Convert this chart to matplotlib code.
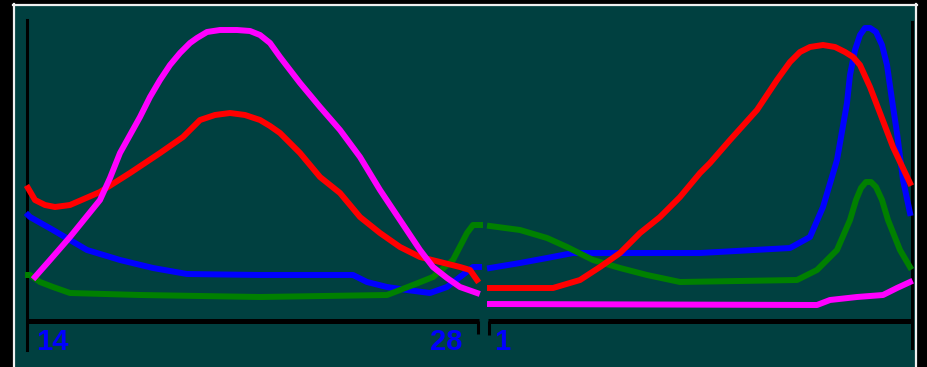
import matplotlib
matplotlib.use("Agg")
import matplotlib.pyplot as plt

# Readings from the picture: x = column position, y = level above the baseline.
# Left panel (days 14 .. 28)
red_left_x = [28, 35, 45, 55, 70, 100, 130, 160, 183, 200, 215, 230, 245, 260, 270, 280,
              300, 320, 340, 360, 380, 400, 420, 440, 460, 470, 477]
red_left_y = [132, 120, 115, 113, 115, 128, 147, 167, 183, 200, 205, 207, 205, 200, 194, 187,
              167, 143, 127, 103, 87, 73, 63, 58, 53, 50, 40]

mag_left_x = [35, 50, 70, 100, 110, 120, 130, 140, 150, 160, 170, 180, 190, 197, 207, 220,
              237, 250, 260, 270, 280, 300, 320, 340, 360, 380, 400, 420, 433, 447, 460, 477]
mag_left_y = [43, 60, 83, 120, 142, 167, 185, 203, 223, 240, 255, 267, 277, 282, 288, 290,
              290, 289, 285, 277, 263, 237, 213, 190, 163, 130, 100, 70, 53, 42, 33, 27]

blue_left_x = [28, 30, 53, 87, 120, 153, 187, 260, 353, 367, 387, 407, 430, 447, 460, 473, 479]
blue_left_y = [105, 103, 90, 70, 60, 52, 46, 45, 45, 38, 33, 30, 27, 33, 43, 53, 53]

green_left_x = [28, 30, 40, 53, 70, 140, 260, 387, 413, 433, 453, 467, 473, 480]
green_left_y = [45, 45, 38, 33, 27, 25, 23, 25, 35, 43, 60, 87, 95, 95]

# Right panel (from day 1)
red_right_x = [490, 553, 580, 600, 620, 640, 660, 680, 700, 710, 730, 757, 777, 790,
               800, 810, 823, 835, 845, 853, 860, 870, 880, 893, 910]
red_right_y = [32, 32, 40, 53, 67, 87, 103, 123, 147, 157, 180, 210, 240, 258,
               268, 273, 275, 273, 268, 263, 255, 233, 207, 173, 137]

blue_right_x = [490, 520, 547, 573, 700, 790, 810, 823, 837, 847, 850, 855, 860, 865,
                870, 876, 882, 887, 892, 897, 903, 910]
blue_right_y = [52, 57, 62, 67, 67, 72, 83, 113, 160, 217, 245, 270, 285, 292,
                292, 288, 275, 255, 220, 187, 140, 107]

green_right_x = [490, 520, 547, 567, 593, 620, 647, 680, 797, 817, 837, 850, 856, 861,
                 866, 871, 876, 882, 888, 900, 910]
green_right_y = [94, 90, 82, 73, 60, 52, 45, 38, 40, 50, 70, 100, 120, 132,
                 138, 138, 133, 120, 100, 70, 53]

mag_right_x = [490, 817, 830, 857, 883, 897, 910]
mag_right_y = [16, 15, 20, 23, 25, 32, 38]

tick_labels = ["14", "28", "1"]

BG = "#004040"
LW = 4.3

fig = plt.figure(figsize=(9.28, 3.67), dpi=100)
fig.patch.set_facecolor(BG)
ax = fig.add_axes([0, 0, 1, 1])
ax.set_xlim(0, 928)
ax.set_ylim(-47, 320)
ax.set_facecolor(BG)
ax.axis("off")

# outer black frame and white border
ax.axvspan(0, 13, color="black", zorder=1)
ax.axvspan(917, 928, color="black", zorder=1)
ax.axhspan(316, 320, color="black", zorder=1)
ax.plot([14, 14], [-47, 316], color="#f0f0f0", lw=1.6, zorder=2)
ax.plot([13, 917], [315, 315], color="#f0f0f0", lw=1.6, zorder=2)
ax.plot([916, 916], [-47, 316], color="#f0f0f0", lw=1.6, zorder=2)

# axis lines
ax.plot([27, 27], [-30, 300], color="black", lw=2.2, zorder=3)
ax.plot([912, 912], [-28, 298], color="black", lw=2.2, zorder=3)
ax.plot([28, 479], [-1, -1], color="black", lw=3.6, solid_capstyle="butt", zorder=3)
ax.plot([478, 478], [-1, -14], color="black", lw=2.2, solid_capstyle="butt", zorder=3)
ax.plot([488, 912], [-1, -1], color="black", lw=3.6, solid_capstyle="butt", zorder=3)
ax.plot([489, 489], [-1, -15], color="black", lw=2.2, solid_capstyle="butt", zorder=3)

series = [
    (blue_left_x, blue_left_y, blue_right_x, blue_right_y, "#0000ff"),
    (green_left_x, green_left_y, green_right_x, green_right_y, "#008000"),
    (red_left_x, red_left_y, red_right_x, red_right_y, "#ff0000"),
    (mag_left_x, mag_left_y, mag_right_x, mag_right_y, "#ff00ff"),
]
for i, (lx, ly, rx, ry, c) in enumerate(series):
    ax.plot(lx, ly, color=c, lw=LW, solid_joinstyle="round", zorder=4 + i)
    ax.plot(rx, ry, color=c, lw=LW, solid_joinstyle="round", zorder=4 + i)

font = dict(family="Liberation Sans", fontsize=21, fontweight="bold", color="#0000ff")
ax.text(36, -30, tick_labels[0], ha="left", va="baseline", **font)
ax.text(462, -30, tick_labels[1], ha="right", va="baseline", **font)
ax.text(494, -30, tick_labels[2], ha="left", va="baseline", **font)

fig.savefig("out.png", dpi=100, facecolor=BG)
